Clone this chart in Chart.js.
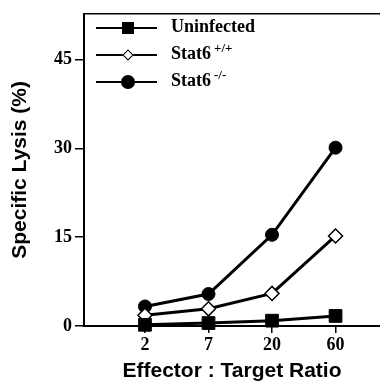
<!DOCTYPE html>
<html>
<head>
<meta charset="utf-8">
<script src="https://cdn.jsdelivr.net/npm/chart.js@4"></script>
<style>
  html, body { margin: 0; padding: 0; background: #fff; }
  #wrap { position: relative; width: 380px; height: 387px; }
  #legend { position: absolute; left: 96px; top: 0; font: bold 18px "Liberation Serif", serif; color: #000; }
  .row { position: absolute; left: 0; width: 200px; height: 0; }
  .ln { position: absolute; left: 0; width: 61px; top: -1px; height: 2px; background: #000; }
  .mk { position: absolute; box-sizing: border-box; }
  .sq { left: 26px; top: -6px; width: 12px; height: 12px; background: #000; }
  .di { left: 28px; top: -4px; width: 8px; height: 8px; background: #fff; border: 1.5px solid #000; transform: rotate(45deg); }
  .ci { left: 25px; top: -7px; width: 14px; height: 14px; border-radius: 50%; background: #000; }
  .tx { position: absolute; left: 75px; top: -13px; white-space: nowrap; line-height: 22px; }
  .tx sup { font-size: 13px; vertical-align: 0; position: relative; top: -7px; margin-left: 3px; }
</style>
</head>
<body>
<div id="wrap">
  <canvas id="chart" width="380" height="387"></canvas>
  <div id="legend">
    <div class="row" style="top:28px"><div class="ln"></div><div class="mk sq"></div><div class="tx">Uninfected</div></div>
    <div class="row" style="top:55px"><div class="ln"></div><div class="mk di"></div><div class="tx">Stat6<sup>+/+</sup></div></div>
    <div class="row" style="top:82px"><div class="ln"></div><div class="mk ci"></div><div class="tx">Stat6<sup>-/-</sup></div></div>
  </div>
</div>
<script>
// values
const categories = ['2', '7', '20', '60'];
const uninfected = [0.2, 0.5, 0.9, 1.7];
const stat6WT = [1.8, 2.9, 5.5, 15.2];
const stat6KO = [3.3, 5.4, 15.4, 30.1];
const yTicks = [0, 15, 30, 45];

const toPoints = arr => arr.map((v, i) => ({ x: i + 1, y: v }));
const tickFont = { family: 'Liberation Serif', weight: 'bold', size: 18 };
const titleFont = { family: 'Liberation Sans', weight: 'bold', size: 21 };

const common = { borderColor: '#000', borderWidth: 3, tension: 0, clip: false, pointBorderColor: '#000' };

new Chart(document.getElementById('chart'), {
  type: 'line',
  data: {
    datasets: [
      { ...common, label: 'Uninfected', data: toPoints(uninfected), pointStyle: 'rect', pointRadius: 9, pointBackgroundColor: '#000', pointBorderWidth: 1 },
      { ...common, label: 'Stat6 +/+', data: toPoints(stat6WT), pointStyle: 'rectRot', pointRadius: 7, pointBackgroundColor: '#fff', pointBorderWidth: 1.5 },
      { ...common, label: 'Stat6 -/-', data: toPoints(stat6KO), pointStyle: 'circle', pointRadius: 6.5, pointBackgroundColor: '#000', pointBorderWidth: 1 }
    ]
  },
  options: {
    responsive: false,
    animation: false,
    devicePixelRatio: 1,
    layout: { autoPadding: false, padding: { top: 10, right: 0, left: 0, bottom: 0 } },
    plugins: { legend: { display: false }, tooltip: { enabled: false } },
    scales: {
      x: {
        type: 'linear', min: 0.04, max: 4.7,
        afterBuildTicks: s => { s.ticks = categories.map((c, i) => ({ value: i + 1 })); },
        afterFit: s => { s.height = 61; s.paddingLeft = 0; s.paddingRight = 0; },
        ticks: { callback: (v, i) => categories[i], font: tickFont, color: '#000', padding: 2, maxRotation: 0, autoSkip: false },
        grid: { drawOnChartArea: false, tickLength: 7, color: '#000', lineWidth: 1.5 },
        border: { color: '#000', width: 2 },
        title: { display: true, text: 'Effector : Target Ratio', font: titleFont, color: '#000', padding: { top: 0, bottom: 3 } }
      },
      x2: {
        type: 'linear', position: 'top',
        afterFit: s => { s.height = 0; s.paddingLeft = 0; s.paddingRight = 0; },
        ticks: { display: false },
        grid: { display: false, drawTicks: false },
        border: { display: true, color: '#000', width: 1.5 }
      },
      y: {
        min: 0, max: 52.7,
        afterBuildTicks: s => { s.ticks = yTicks.map(v => ({ value: v })); },
        afterFit: s => { s.width = 84; },
        ticks: { font: tickFont, color: '#000', padding: 3 },
        grid: { drawOnChartArea: false, tickLength: 9, color: '#000', lineWidth: 1.5 },
        border: { color: '#000', width: 2 },
        title: { display: true, text: 'Specific Lysis (%)', font: titleFont, color: '#000', padding: { top: 8, bottom: 0 } }
      }
    }
  }
});
</script>
</body>
</html>
